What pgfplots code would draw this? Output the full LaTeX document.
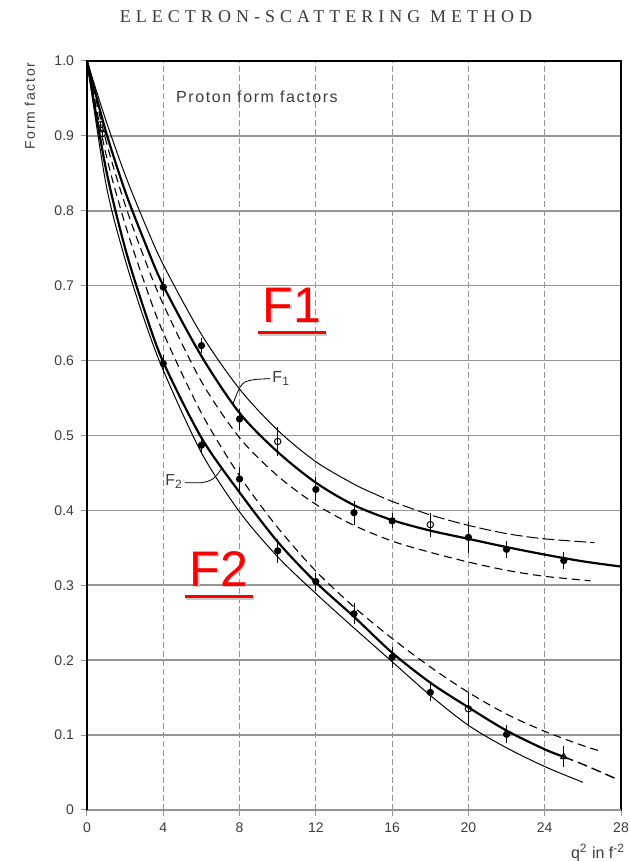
\documentclass[border=0pt]{standalone}
\usepackage{fontspec}
\setmainfont{Liberation Serif}
\setsansfont{Liberation Sans}
\usepackage{pgfplots}
\pgfplotsset{compat=1.18}
\definecolor{gridgray}{RGB}{150,150,150}
\definecolor{txtgray}{RGB}{60,60,60}
\definecolor{redlab}{RGB}{250,0,0}
\definecolor{shadowgray}{RGB}{200,200,200}
\begin{document}
\begin{tikzpicture}[x=1pt,y=1pt]
\useasboundingbox (0,0) rectangle (314.5,430.5);
\node[font=\fontsize{9}{9}\selectfont\addfontfeature{LetterSpace=28}, text=txtgray] at (163,422) {ELECTRON-SCATTERING METHOD};
\node[rotate=90, font=\sffamily\fontsize{7}{7}\selectfont\addfontfeature{LetterSpace=12}, text=txtgray] at (15,377.5) {Form factor};
\node[anchor=base west, font=\sffamily\fontsize{8}{8}\selectfont, text=txtgray] at (282,1.2) {q\textsuperscript{2} in f\textsuperscript{-2}};
\begin{axis}[
  at={(43.5pt,25.5pt)}, anchor=south west,
  scale only axis, width=267pt, height=374.5pt,
  xmin=0, xmax=28, ymin=0, ymax=1,
  xtick={0,4,8,12,16,20,24,28},
  ytick={0,0.1,0.2,0.3,0.4,0.5,0.6,0.7,0.8,0.9,1.0},
  yticklabels={0,0.1,0.2,0.3,0.4,0.5,0.6,0.7,0.8,0.9,1.0},
  xtick pos=bottom, ytick pos=left,
  tick align=outside, major tick length=3pt,
  tick style={gridgray, line width=0.5pt},
  grid=major,
  x grid style={gridgray, line width=0.4pt, dash pattern=on 3pt off 1.5pt},
  y grid style={gridgray, line width=0.8pt},
  axis line style={black, line width=0.6pt},
  ticklabel style={font=\sffamily\fontsize{7}{7}\selectfont, text=txtgray},
  /pgf/number format/assume math mode=true,
  clip=false,
]
% F1 upper thin
\addplot[black, line width=0.5pt, smooth] coordinates {
(0,1) (1,0.92) (2,0.848) (3,0.785) (4,0.728) (6,0.635) (8,0.562) (10,0.507) (12,0.465) (14,0.435) (15,0.423)};
\addplot[black, line width=0.5pt, smooth, dash pattern=on 6pt off 2pt] coordinates {
(15,0.423) (16,0.412) (18,0.394) (20,0.380) (22,0.369) (24,0.362) (26.6,0.357)};
% F1 central
\addplot[black, line width=1.1pt, smooth] coordinates {
(0,1) (1,0.905) (2,0.826) (3,0.76) (4,0.70) (6,0.606) (8,0.53) (10,0.478) (12,0.437) (14,0.407) (16,0.387) (18,0.373) (20,0.362) (22,0.351) (24,0.341) (26,0.332) (28,0.325)};
% F1 lower dashed
\addplot[black, line width=0.55pt, smooth, dash pattern=on 4pt off 2.5pt] coordinates {
(0,1) (1,0.893) (2,0.808) (3,0.737) (4,0.675) (6,0.572) (8,0.497) (10,0.446) (12,0.408) (14,0.38) (16,0.359) (18,0.344) (20,0.331) (22,0.32) (24,0.312) (26.4,0.306)};
% F2 upper dashed
\addplot[black, line width=0.55pt, smooth, dash pattern=on 4pt off 2.5pt] coordinates {
(0,1) (1,0.875) (2,0.782) (3,0.705) (4,0.637) (6,0.53) (8,0.446) (10,0.377) (12,0.319) (14,0.271) (16,0.229) (18,0.191) (20,0.157) (22,0.128) (24,0.105) (26,0.086) (27,0.078)};
% F2 central
\addplot[black, line width=1.1pt, smooth] coordinates {
(0,1) (1,0.855) (2,0.75) (3,0.668) (4,0.598) (6,0.497) (8,0.424) (10,0.358) (12,0.304) (14,0.258) (16,0.210) (18,0.170) (20,0.137) (22,0.106) (24,0.081) (25,0.071)};
\addplot[black, line width=0.7pt, smooth, dash pattern=on 5pt off 2.5pt] coordinates {
(25,0.071) (26,0.061) (27,0.05) (27.8,0.041)};
% F2 lower thin
\addplot[black, line width=0.5pt, smooth] coordinates {
(0,1) (1,0.835) (2,0.735) (3,0.655) (4,0.587) (6,0.477) (8,0.398) (10,0.338) (12,0.289) (14,0.243) (16,0.198) (18,0.153) (20,0.113) (22,0.083) (24,0.058) (26,0.037)};
% F1 data
\addplot[only marks, mark=*, mark size=1.6pt, black,
  error bars/.cd, y dir=both, y explicit, error bar style={line width=0.5pt}, error mark options={mark size=1.5pt}]
 coordinates {
 (4,0.698) +- (0,0.008) (6,0.62) +- (0,0.006) (8,0.522) +- (0,0.01) (12,0.428) +- (0,0.012)
 (14,0.397) +- (0,0.012) (16,0.386) +- (0,0.006) (20,0.364) +- (0,0.017) (22,0.348) +- (0,0.007) (25,0.333) +- (0,0.007)};
\addplot[only marks, mark=o, mark size=1.6pt, black, mark options={fill=white, line width=0.5pt},
  error bars/.cd, y dir=both, y explicit, error bar style={line width=0.5pt}, error mark options={mark size=1.5pt}]
 coordinates {
 (0.7,0.915) +- (0,0) (10,0.492) +- (0,0.016) (18,0.381) +- (0,0.012)};
% F2 data
\addplot[only marks, mark=*, mark size=1.6pt, black,
  error bars/.cd, y dir=both, y explicit, error bar style={line width=0.5pt}, error mark options={mark size=1.5pt}]
 coordinates {
 (4,0.596) +- (0,0.008) (6,0.487) +- (0,0.006) (8,0.442) +- (0,0.012) (10,0.346) +- (0,0.012)
 (12,0.305) +- (0,0.008) (14,0.262) +- (0,0.01) (16,0.204) +- (0,0.01) (18,0.157) +- (0,0.008) (22,0.101) +- (0,0.008)};
\addplot[only marks, mark=o, mark size=1.6pt, black, mark options={fill=white, line width=0.5pt},
  error bars/.cd, y dir=both, y explicit, error bar style={line width=0.5pt}, error mark options={mark size=1.5pt}]
 coordinates {
 (0.8,0.903) +- (0,0) (20,0.135) +- (0,0.018)};
\addplot[only marks, mark=triangle, mark size=1.8pt, black, mark options={fill=white, line width=0.5pt},
  error bars/.cd, y dir=both, y explicit, error bar style={line width=0.5pt}, error mark options={mark size=1.5pt}]
 coordinates {(25,0.071) +- (0,0.01)};
% axis borders
\draw[gridgray, line width=0.9pt] (rel axis cs:0,0) -- (rel axis cs:1,0);
\draw[black, line width=1.2pt] (rel axis cs:0,0) -- (rel axis cs:0,1);
% annotations
\node[anchor=west, font=\sffamily\fontsize{8}{8}\selectfont\addfontfeature{LetterSpace=10}, text=txtgray] at (axis cs:4.3,0.952) {Proton form factors};
\draw[black, line width=0.4pt] (axis cs:7.65,0.542) .. controls (axis cs:8.1,0.572) .. (axis cs:8.9,0.575) -- (axis cs:9.6,0.576);
\node[anchor=west, inner sep=1pt, font=\sffamily\fontsize{8}{8}\selectfont, text=txtgray] at (axis cs:9.6,0.576) {F\textsubscript{1}};
\draw[black, line width=0.4pt] (axis cs:5.15,0.437) -- (axis cs:6.0,0.437) .. controls (axis cs:6.6,0.44) .. (axis cs:7.1,0.457);
\node[anchor=east, inner sep=1pt, font=\sffamily\fontsize{8}{8}\selectfont, text=txtgray] at (axis cs:5.15,0.439) {F\textsubscript{2}};
% red labels with faint shadow
\node[inner sep=0pt, font=\sffamily\fontsize{25}{25}\selectfont, text=shadowgray] at ([xshift=0.8pt,yshift=-0.8pt]axis cs:10.75,0.674) {F1};
\node[inner sep=0pt, font=\sffamily\fontsize{25}{25}\selectfont, text=redlab] (f1) at (axis cs:10.75,0.674) {F1};
\draw[shadowgray, line width=1.4pt] ([xshift=-1.5pt,yshift=-5.8pt]f1.south west) -- ([xshift=2.5pt,yshift=-5.8pt]f1.south east);
\draw[redlab, line width=1.4pt] ([xshift=-2pt,yshift=-5pt]f1.south west) -- ([xshift=2pt,yshift=-5pt]f1.south east);
\node[inner sep=0pt, font=\sffamily\fontsize{25}{25}\selectfont, text=shadowgray] at ([xshift=0.8pt,yshift=-0.8pt]axis cs:6.92,0.322) {F2};
\node[inner sep=0pt, font=\sffamily\fontsize{25}{25}\selectfont, text=redlab] (f2) at (axis cs:6.92,0.322) {F2};
\draw[shadowgray, line width=1.4pt] ([xshift=-1.5pt,yshift=-5.8pt]f2.south west) -- ([xshift=2.5pt,yshift=-5.8pt]f2.south east);
\draw[redlab, line width=1.4pt] ([xshift=-2pt,yshift=-5pt]f2.south west) -- ([xshift=2pt,yshift=-5pt]f2.south east);
\end{axis}
\end{tikzpicture}
\end{document}
